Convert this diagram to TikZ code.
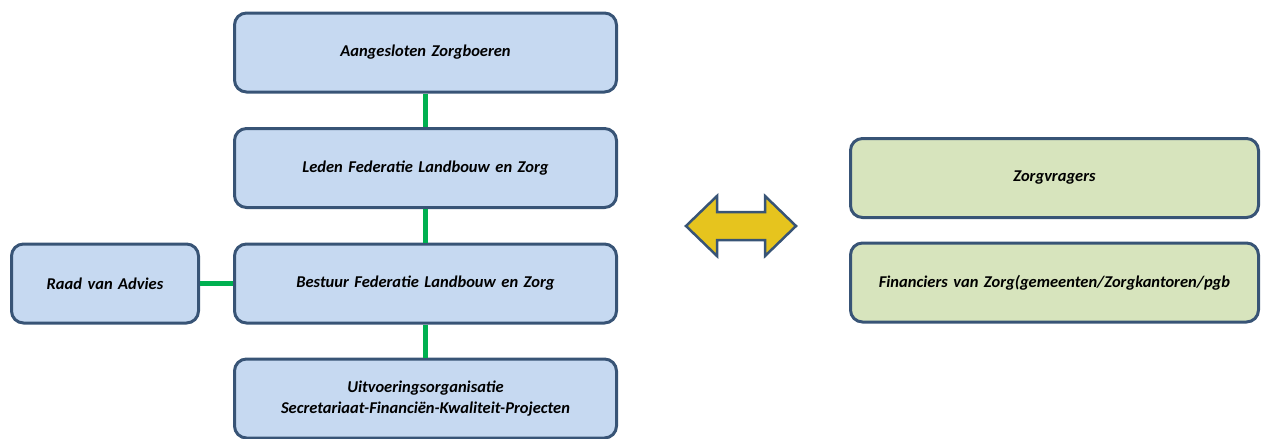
\documentclass[tikz,border=0pt]{standalone}
\usepackage{fontspec}
\setmainfont{Carlito}
\usetikzlibrary{positioning}
\definecolor{boxblue}{RGB}{198,217,241}
\definecolor{boxgreen}{RGB}{215,228,189}
\definecolor{edgeblue}{RGB}{56,84,118}
\definecolor{linkgreen}{RGB}{0,176,80}
\definecolor{arrowyellow}{RGB}{230,196,30}
\tikzset{
    %Define style for boxes
    orgbox/.style={
           rectangle,
           rounded corners=12pt,
           draw=edgeblue, line width=3pt,
           fill=boxblue,
           text width=370pt,
           minimum width=382pt,
           minimum height=79pt,
           align=center,
           font=\fontsize{16.5}{21}\selectfont\bfseries\itshape},
    sidebox/.style={
           orgbox,
           text width=175pt,
           minimum width=187pt},
    clientbox/.style={
           orgbox,
           fill=boxgreen,
           text width=395pt,
           minimum width=408pt},
    % Define link style
    link/.style={
           draw=linkgreen,
           line width=5pt},
    % Define exchange arrow style
    exchange/.style={
           draw=edgeblue,
           line width=2.5pt,
           fill=arrowyellow,
           line join=miter}
}
\begin{document}
\begin{tikzpicture}[x=1pt,y=-1pt]
 \useasboundingbox (0,0) rectangle (1264,439);
 %nodes
    \node[orgbox] (aang) at (425.5,52.5) {Aangesloten Zorgboeren};
    \node[orgbox] (leden) at (425.5,168) {Leden Federatie Landbouw en Zorg};
    \node[orgbox] (bestuur) at (425.5,283.5) {Bestuur Federatie Landbouw en Zorg};
    \node[orgbox] (uitv) at (425.5,398.5) {Uitvoeringsorganisatie\\Secretariaat-Financiën-Kwaliteit-Projecten};
    \node[sidebox] (raad) at (105,283.5) {Raad van Advies};
    \node[clientbox] (vragers) at (1054.5,178) {Zorgvragers};
    \node[clientbox] (financiers) at (1054.5,282.5) {Financiers van Zorg(gemeenten/Zorgkantoren/pgb};
    \coordinate (wissel) at (741,226);
 %edges
    \draw[link] (aang) -- (leden);
    \draw[link] (leden) -- (bestuur);
    \draw[link] (bestuur) -- (uitv);
    \draw[link] (raad) -- (bestuur);
 %exchange arrow
    \draw[exchange] (wissel) ++(-55,0) -- ++(31,-30) -- ++(0,16) -- ++(48,0) -- ++(0,-16)
        -- ++(31,30) -- ++(-31,30) -- ++(0,-16) -- ++(-48,0) -- ++(0,16) -- cycle;
\end{tikzpicture}
\end{document}
